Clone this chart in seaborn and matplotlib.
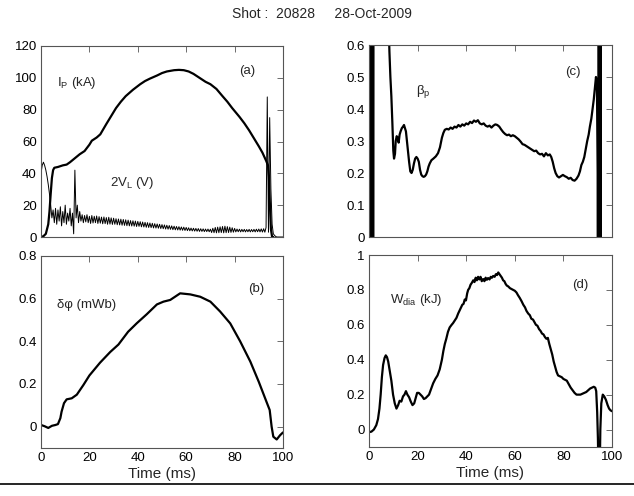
import numpy as np
import pandas as pd
import matplotlib
matplotlib.use("Agg")
import matplotlib.pyplot as plt
from matplotlib.lines import Line2D
from matplotlib.ticker import FuncFormatter
import seaborn as sns

# ---------------- data ----------------
title = "Shot :  20828     28-Oct-2009"

ip_t = [0, 1, 2, 3, 3.5, 4, 4.5, 5, 5.5, 7, 9, 10.6, 12, 14, 16, 18, 20, 21, 23, 24.5, 27, 29, 31, 33,
        35, 38, 41, 43, 45, 48, 50, 52, 55, 57, 59, 61, 63, 66, 68, 70, 72.5, 75, 77, 79, 82, 84,
        86, 88, 90, 91.5, 93, 93.8, 94.2, 94.6, 95, 95.5, 96]
ip_v = [0, 0.5, 2, 8, 16, 27, 37, 42, 43.5, 44, 45, 45.5, 47, 49.5, 52, 54, 58, 60.5, 62.5, 64.5, 71,
        76, 81, 85, 88.5, 92.5, 96, 98, 99.5, 101.5, 103, 104, 104.8, 105, 104.8, 104, 102.5, 99.5,
        97.5, 96, 93, 88.5, 85, 81, 75.5, 71.5, 67, 62, 57, 53, 48, 45, 38, 20, 5, 0, 0]

# 2V_L sampled every 0.5 ms from 0 to 100 ms
vl_v = [40, 45, 47, 45, 42, 38, 33, 27, 20, 12,
        17, 9, 18, 8, 17, 10, 19, 7, 16, 9,
        20, 8, 15, 10, 18, 7, 15, 2, 42, 12,
        20, 9, 16, 10, 14, 9, 13.5, 9.5, 14, 9, 13,
        8.5, 13.5, 8.8, 13, 9, 13.2, 8.5, 12.8, 8.7, 12.5,
        8.3, 12.6, 8.4, 12.2, 8, 12.4, 8.1, 12, 7.9, 11.8,
        8, 11.5, 7.7, 11.3, 7.6, 11.2, 7.4, 11, 7.3, 10.8,
        7.1, 10.6, 7, 10.3, 6.9, 10.2, 6.8, 10, 6.6, 9.8,
        6.7, 9.6, 6.4, 9.4, 6.3, 9.2, 6.1, 9, 6, 8.8,
        5.9, 8.6, 5.7, 8.4, 5.6, 8.2, 5.5, 8, 5.3, 7.8,
        5.2, 7.6, 5, 7.4, 4.9, 7.2, 4.8, 7, 4.6, 6.8,
        4.5, 6.6, 4.4, 6.5, 4.3, 6.3, 4.2, 6.2, 4.1, 6,
        4, 5.8, 3.9, 5.6, 3.8, 5.5, 3.7, 5.4, 3.6, 5.3,
        3.5, 5.2, 3.5, 5.1, 3.4, 5, 3.4, 5, 3.3, 4.9,
        2.8, 5.5, 2.7, 6, 2.6, 6.2, 2.7, 6.4, 2.8, 6.6,
        2.6, 6.8, 2.7, 6.5, 2.8, 6.2, 2.9, 5.8, 3, 5.4,
        3.2, 5, 3.3, 4.9, 3.2, 4.8, 3.3, 4.8, 3.2, 4.7,
        3.3, 4.8, 3.2, 4.7, 3.3, 4.8, 3.2, 4.9, 3.3, 5,
        3.2, 5.1, 3.1, 5.2, 3, 6,
        88, 3, 75, 30, 8, 2, 1, 0.3,
        0, 0, 0, 0, 0, 0]
vl_t = list(np.arange(len(vl_v)) * 0.5)

dphi_t = [0, 1.5, 3, 4.5, 6, 7, 8, 8.5, 9.5, 10.6, 12.7, 14.8, 17.5, 20, 24.4, 28.6, 32, 36, 39.6,
          43.7, 47.9, 50.6, 53.4, 57.5, 61.7, 65.8, 70, 74, 78.2, 82.3, 86.5, 90, 93.4, 94.5, 95.3,
          96, 97.4, 98.8, 100]
dphi_v = [0.008, 0.002, -0.006, 0.004, 0.008, 0.012, 0.04, 0.07, 0.11, 0.128, 0.133, 0.15, 0.195,
          0.24, 0.3, 0.35, 0.385, 0.445, 0.485, 0.527, 0.573, 0.586, 0.594, 0.625, 0.62, 0.609,
          0.586, 0.54, 0.484, 0.4, 0.305, 0.21, 0.11, 0.078, 0.0, -0.047, -0.06, -0.04, -0.027]

bp_t = [0.7, 0.95, 1.2, 1.45, 1.7, 1.95, 5, 8.0, 8.4, 8.8, 9.2, 9.6, 10, 10.3, 10.7, 11, 11.4, 11.8,
        12.2, 12.6, 13, 13.5, 14, 14.4, 14.8, 15.2, 15.6, 16, 16.5, 17, 17.5, 18, 18.5, 19, 19.5,
        20, 20.5, 21, 21.5, 22, 22.5, 23, 23.5, 24, 24.5, 25, 25.7, 26.5, 27.5, 28.4, 29.2, 30,
        30.6, 31.2, 32, 32.8, 33.6, 34.4, 35.2, 36, 36.8, 37.6, 38.4, 39.2, 40, 40.8, 41.6, 42.4,
        43.2, 44, 44.8, 45.6, 46.4, 47.2, 48, 48.8, 49.6, 50.4, 51.2, 52, 52.8, 53.6, 54.4, 55.2,
        56, 56.8, 57.6, 58.4, 59.2, 60, 60.8, 61.6, 62.4, 63.2, 64, 64.8, 65.6, 66.4, 67.2, 68,
        68.8, 69.6, 70.4, 71.2, 72, 72.8, 73.6, 74.4, 75, 75.6, 76.2, 76.8, 77.5, 78.2, 79, 79.8,
        80.6, 81.4, 82.2, 83, 83.8, 84.6, 85.4, 86.2, 86.8, 87.4, 88, 88.6, 89.2, 89.8, 90.4,
        90.9, 91.5, 92, 92.5, 93, 93.4, 93.8, 94.1, 94.3, 94.55, 94.8, 95.05, 95.3, 95.55, 100]
bp_v = [-2, 3, -2, 3, -2, 3, 2, 0.7, 0.58, 0.5, 0.44, 0.36, 0.27, 0.245, 0.26, 0.3, 0.315, 0.31,
        0.295, 0.32, 0.33, 0.34, 0.345, 0.35, 0.34, 0.33, 0.3, 0.27, 0.235, 0.205, 0.2, 0.21, 0.23,
        0.245, 0.25, 0.245, 0.235, 0.21, 0.195, 0.19, 0.188, 0.19, 0.195, 0.205, 0.22, 0.23, 0.24,
        0.245, 0.252, 0.262, 0.28, 0.31, 0.325, 0.335, 0.338, 0.336, 0.342, 0.338, 0.345, 0.342,
        0.35, 0.345, 0.352, 0.348, 0.355, 0.352, 0.36, 0.356, 0.364, 0.36, 0.365, 0.355, 0.352,
        0.355, 0.348, 0.345, 0.348, 0.342, 0.348, 0.352, 0.35, 0.345, 0.336, 0.328, 0.322, 0.318,
        0.32, 0.315, 0.318, 0.315, 0.31, 0.305, 0.298, 0.29, 0.288, 0.284, 0.28, 0.276, 0.272,
        0.268, 0.27, 0.262, 0.258, 0.26, 0.252, 0.262, 0.255, 0.258, 0.25, 0.235, 0.215, 0.2, 0.19,
        0.186, 0.19, 0.194, 0.19, 0.187, 0.182, 0.185, 0.178, 0.176, 0.182, 0.192, 0.205, 0.225,
        0.235, 0.25, 0.275, 0.3, 0.32, 0.345, 0.37, 0.4, 0.43, 0.47, 0.5, 0.48, 0.2, -2, 3, -2, 3,
        -2, 3, 3]

wd_t = [0, 1, 2, 3, 3.7, 4.3, 4.8, 5.3, 5.8, 6.4, 6.9, 7.4, 7.9, 8.5, 9.2, 9.9, 10.6, 11.3, 12,
        12.6, 13.3, 14, 14.6, 15.2, 15.8, 16.5, 17.2, 17.9, 18.6, 19.2, 19.8, 20.5, 21.2, 21.9,
        22.6, 23.3, 24, 24.7, 25.5, 26.4, 27.3, 28.2, 29.1, 30, 30.6, 31.2, 31.8, 32.5, 33.2, 34,
        34.6, 35.3, 36, 36.7, 37.4, 37.9, 38.4, 38.9, 39.4, 39.9, 40.4, 40.8, 41.3, 41.8, 42.3,
        42.9, 43.4, 43.9, 44.4, 44.9, 45.4, 45.9, 46.4, 47, 47.5, 48, 48.5, 49, 49.6, 50.1, 50.6,
        51.1, 51.7, 52.2, 52.7, 53.2, 53.7, 54.2, 54.7, 55.2, 55.7, 56.2, 56.7, 57.3, 58, 58.7,
        59.4, 60, 60.7, 61.3, 62, 62.8, 63.5, 64.2, 64.8, 65.5, 66.2, 66.8, 67.5, 68.1, 68.7,
        69.3, 70, 70.6, 71.2, 71.8, 72.4, 73, 73.6, 74.2, 74.8, 75.4, 76, 76.6, 77.2, 77.8, 78.5,
        79.3, 80, 80.7, 81.4, 82.2, 83, 83.8, 84.6, 85.4, 86.2, 87, 87.8, 88.6, 89.4, 90.2, 91,
        91.8, 92.5, 93.1, 93.5, 93.9, 94.2, 94.5, 94.9, 95.2, 95.6, 96.2, 96.8, 97.5, 98.2, 98.8,
        99.4, 100]
wd_v = [-0.015, -0.012, 0.0, 0.025, 0.06, 0.12, 0.2, 0.3, 0.37, 0.41, 0.425, 0.415, 0.39, 0.34,
        0.28, 0.2, 0.15, 0.12, 0.14, 0.165, 0.16, 0.19, 0.2, 0.22, 0.2, 0.185, 0.16, 0.14, 0.15,
        0.18, 0.21, 0.21, 0.2, 0.19, 0.175, 0.18, 0.19, 0.2, 0.23, 0.265, 0.29, 0.31, 0.345, 0.4,
        0.45, 0.49, 0.52, 0.56, 0.585, 0.6, 0.61, 0.625, 0.64, 0.665, 0.685, 0.7, 0.715, 0.72,
        0.745, 0.74, 0.78, 0.8, 0.81, 0.83, 0.84, 0.855, 0.845, 0.87, 0.855, 0.875, 0.86, 0.875,
        0.85, 0.862, 0.85, 0.87, 0.858, 0.868, 0.86, 0.875, 0.87, 0.88, 0.875, 0.89, 0.885, 0.9,
        0.89, 0.88, 0.87, 0.855, 0.85, 0.835, 0.825, 0.82, 0.81, 0.805, 0.8, 0.795, 0.785, 0.77,
        0.755, 0.735, 0.715, 0.7, 0.68, 0.665, 0.655, 0.635, 0.63, 0.615, 0.6, 0.595, 0.575,
        0.565, 0.55, 0.545, 0.53, 0.52, 0.525, 0.49, 0.46, 0.43, 0.39, 0.36, 0.33, 0.31, 0.305,
        0.3, 0.29, 0.285, 0.28, 0.26, 0.24, 0.225, 0.21, 0.2, 0.2, 0.2, 0.205, 0.21, 0.215, 0.225,
        0.235, 0.24, 0.245, 0.24, 0.22, 0.1, -0.05, -0.3, -0.3, 0.0, 0.15, 0.2, 0.19, 0.17, 0.14,
        0.12, 0.11, 0.105]

x_ticks = [0, 20, 40, 60, 80, 100]

# ---------------- style ----------------
sns.set_theme(style="white")
plt.rcParams["font.family"] = ["Liberation Sans", "DejaVu Sans"]
plt.rcParams["mathtext.fontset"] = "custom"
plt.rcParams["mathtext.rm"] = "Liberation Sans"
plt.rcParams["mathtext.it"] = "Liberation Sans:italic"
plt.rcParams["mathtext.bf"] = "Liberation Sans:bold"

W, H = 634, 496
fig = plt.figure(figsize=(W / 100, H / 100), dpi=100)
fig.patch.set_facecolor("white")


def make_ax(l, t, r, b):
    return fig.add_axes([l / W, 1 - b / H, (r - l) / W, (b - t) / H])


ax_a = make_ax(41, 46, 283, 237)
ax_c = make_ax(369, 45, 612, 237)
ax_b = make_ax(41, 256, 283, 448)
ax_d = make_ax(369, 255, 612, 447)

LW = 1.6
sns.lineplot(x=ip_t, y=ip_v, ax=ax_a, color="black", lw=LW, sort=False, estimator=None)
sns.lineplot(x=vl_t, y=vl_v, ax=ax_a, color="black", lw=0.7, sort=False, estimator=None)
sns.lineplot(x=dphi_t, y=dphi_v, ax=ax_b, color="black", lw=LW, sort=False, estimator=None)
sns.lineplot(x=bp_t, y=bp_v, ax=ax_c, color="black", lw=LW, sort=False, estimator=None)
sns.lineplot(x=wd_t, y=wd_v, ax=ax_d, color="black", lw=LW, sort=False, estimator=None)

limits = {ax_a: (0, 120, [0, 20, 40, 60, 80, 100, 120]),
          ax_b: (-0.1, 0.8, [0, 0.2, 0.4, 0.6, 0.8]),
          ax_c: (0, 0.6, [0, 0.1, 0.2, 0.3, 0.4, 0.5, 0.6]),
          ax_d: (-0.1, 1.0, [0, 0.2, 0.4, 0.6, 0.8, 1.0])}

for ax, (y0, y1, yt) in limits.items():
    ax.set_xlim(0, 100)
    ax.set_ylim(y0, y1)
    ax.set_xticks(x_ticks)
    ax.set_yticks(yt)
    ax.yaxis.set_major_formatter(FuncFormatter(lambda v, p: "%g" % round(v, 6)))
    ax.xaxis.set_major_formatter(FuncFormatter(lambda v, p: "%g" % v))
    ax.tick_params(direction="in", length=4, width=0.6, color="#555555",
                   top=True, right=True, labelsize=9.5, pad=3, labelcolor="black")
    for s in ax.spines.values():
        s.set_color("#555555")
        s.set_linewidth(0.8)
    ax.set_xlabel("")
    ax.set_ylabel("")
    ax.grid(False)

ax_a.tick_params(labelbottom=False)
ax_c.tick_params(labelbottom=False)
ax_b.set_xlabel("Time (ms)", fontsize=11, labelpad=2)
ax_d.set_xlabel("Time (ms)", fontsize=11, labelpad=2)

fs = 9.5
ax_a.text(85, 104, "(a)", fontsize=fs, ha="center", va="center")
ax_a.text(6.5, 97, r"I$_{\rm P}$ (kA)", fontsize=fs, ha="left", va="center")
ax_a.text(28.5, 34, r"2V$_{\rm L}$ (V)", fontsize=fs, ha="left", va="center")
ax_b.text(89, 0.645, "(b)", fontsize=fs, ha="center", va="center")
ax_b.text(6.8, 0.57, "δφ (mWb)", fontsize=fs, ha="left", va="center")
ax_c.text(84, 0.515, "(c)", fontsize=fs, ha="center", va="center")
ax_c.text(19.5, 0.455, r"β$_{\rm p}$", fontsize=fs, ha="left", va="center")
ax_d.text(86.8, 0.83, "(d)", fontsize=fs, ha="center", va="center")
ax_d.text(8.5, 0.74, r"W$_{\rm dia}$ (kJ)", fontsize=fs, ha="left", va="center")

fig.text(322 / W, 1 - 14 / H, title, fontsize=10, ha="center", va="center")
fig.add_artist(Line2D([0, 1], [1 - 484 / H, 1 - 484 / H], color="black", lw=1.2,
                      transform=fig.transFigure))

fig.savefig("out.png", dpi=100, facecolor="white")
